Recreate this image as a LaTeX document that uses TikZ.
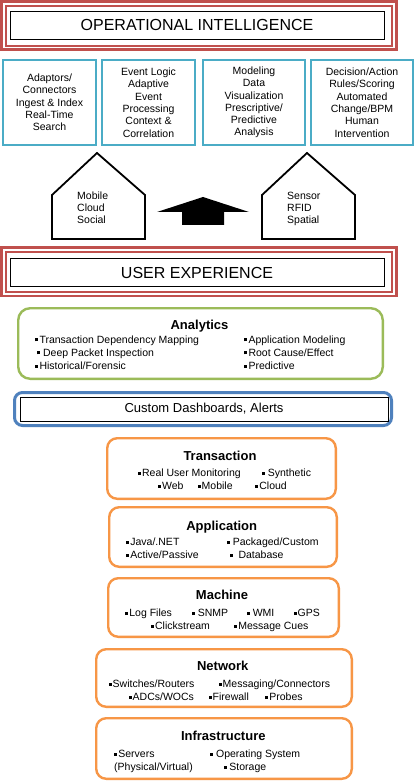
\documentclass[tikz,border=0pt]{standalone}
\usepackage{fontspec}
\setmainfont{Liberation Sans}
\usetikzlibrary{calc}

\definecolor{oired}{RGB}{192,80,77}
\definecolor{oiteal}{RGB}{75,172,198}
\definecolor{oigreen}{RGB}{155,187,89}
\definecolor{oiblue}{RGB}{79,129,189}
\definecolor{oiorange}{RGB}{247,150,70}

\newcommand{\sq}{\rule[1.7pt]{3pt}{3pt}}

\tikzset{
	redouter/.style={draw=oired, line width=2.4pt},
	redinner/.style={draw=oired, line width=1.6pt},
	headbox/.style={draw=black, line width=0.8pt, inner sep=0pt, font=\fontsize{16}{19}\selectfont},
	sourcebox/.style={draw=oiteal, line width=2.2pt, inner sep=0pt, align=center, font=\fontsize{10.5}{12.3}\selectfont},
	house/.style={draw=black, line width=1.8pt, line join=miter},
	housetext/.style={anchor=base west, inner sep=0pt, align=left, font=\fontsize{10.5}{12}\selectfont},
	layerbox/.style={draw=oiorange, line width=2.4pt, rounded corners=10pt, inner sep=0pt},
	layertitle/.style={anchor=base, inner sep=0pt, font=\bfseries\fontsize{13}{15}\selectfont},
	item/.style={anchor=base west, inner sep=0pt, font=\fontsize{10.5}{12.6}\selectfont}
}

\begin{document}
\begin{tikzpicture}[x=1pt,y=-1pt]
	\useasboundingbox[fill=white] (0,0) rectangle (417,783);

	% operational intelligence
	\draw[redouter] (1.5,1.5) rectangle (396.5,49.5);
	\draw[redinner] (6,6) rectangle (392,46);
	\node[headbox, minimum width=374pt, minimum height=28pt] (oi) at (197,25) {OPERATIONAL INTELLIGENCE};

	\node[sourcebox, minimum width=93pt, minimum height=85pt] (ingest) at (49.5,102.5) {Adaptors/\\Connectors\\Ingest \& Index\\Real-Time\\Search};
	\node[sourcebox, minimum width=93pt, minimum height=85pt] (events) at (148.5,102.5) {Event Logic\\Adaptive\\Event\\Processing\\Context \&\\Correlation};
	\node[sourcebox, minimum width=102pt, minimum height=85pt] (modeling) at (254,102.5) {Modeling\\Data\\Visualization\\Prescriptive/\\Predictive\\Analysis};
	\node[sourcebox, minimum width=102pt, minimum height=85pt] (decision) at (362,102.5) {Decision/Action\\Rules/Scoring\\Automated\\Change/BPM\\Human\\Intervention};

	% channels
	\draw[house] (52,239) -- (52,195) -- (97,153) -- (145,195) -- (145,239) -- cycle;
	\draw[house] (262,239) -- (262,195) -- (307,153) -- (355,195) -- (355,239) -- cycle;
	\node[housetext] (mobile) at (77,224) {Mobile\\Cloud\\Social};
	\node[housetext] (sensor) at (287,224) {Sensor\\RFID\\Spatial};
	\fill[black] (182,225) -- (182,212) -- (157,212) -- (203,197) -- (249,212) -- (224,212) -- (224,225) -- cycle;

	% user experience
	\draw[redouter] (1.5,247.5) rectangle (396.5,296);
	\draw[redinner] (6,252) rectangle (392,292);
	\node[headbox, minimum width=374pt, minimum height=28.4pt] (ux) at (197,272.5) {USER EXPERIENCE};

	% analytics
	\node[draw=oigreen, line width=2.4pt, rounded corners=12pt, minimum width=364.6pt, minimum height=70.6pt] (analytics) at (200.5,343.5) {};
	\node[layertitle] (antitle) at (199.5,329) {Analytics};
	\node[item] (an1) at (35,343) {\sq\hspace{1.3pt}Transaction Dependency Mapping};
	\node[item] (an2) at (37,356) {\sq\ Deep Packet Inspection};
	\node[item] (an3) at (35,369.2) {\sq\hspace{1.3pt}Historical/Forensic};
	\node[item] (an4) at (244,343) {\sq\hspace{1.3pt}Application Modeling};
	\node[item] (an5) at (244,356) {\sq\hspace{1.3pt}Root Cause/Effect};
	\node[item] (an6) at (244,369.2) {\sq\hspace{1.3pt}Predictive};

	% dashboards
	\node[draw=oiblue, line width=3pt, rounded corners=8pt, minimum width=377pt, minimum height=33pt] (alertsframe) at (203,409) {};
	\node[headbox, minimum width=368pt, minimum height=24pt, font=\fontsize{13}{15}\selectfont] (alerts) at (204,409) {Custom Dashboards, Alerts};

	% monitored layers
	\node[layerbox, minimum width=228.6pt, minimum height=60.6pt] (transaction) at (221.5,468.5) {};
	\node[layertitle] (trtitle) at (220,460.7) {Transaction};
	\node[item] (tr1) at (137.7,476.7) {\sq\hspace{1.2pt}Real User Monitoring};
	\node[item] (tr2) at (261.7,476.7) {\sq\ Synthetic};
	\node[item] (tr3) at (157.7,489.3) {\sq\hspace{1.2pt}Web};
	\node[item] (tr4) at (197.3,489.3) {\sq\hspace{1.2pt}Mobile};
	\node[item] (tr5) at (255,489.3) {\sq\hspace{1.2pt}Cloud};

	\node[layerbox, minimum width=227.6pt, minimum height=59.6pt] (application) at (223,537) {};
	\node[layertitle] (aptitle) at (221.7,530) {Application};
	\node[item] (ap1) at (126,545.7) {\sq\hspace{1.2pt}Java/.NET};
	\node[item] (ap2) at (226.7,545.7) {\sq\ Packaged/Custom};
	\node[item] (ap3) at (126,558.7) {\sq\hspace{1.2pt}Active/Passive};
	\node[item] (ap4) at (229.3,558.7) {\sq\hspace{6pt}Database};

	\node[layerbox, minimum width=230.6pt, minimum height=58.6pt] (machine) at (223.5,607.5) {};
	\node[layertitle] (matitle) at (222,599.3) {Machine};
	\node[item] (ma1) at (125,616.7) {\sq\hspace{1.2pt}Log Files};
	\node[item] (ma2) at (191.7,616.7) {\sq\ SNMP};
	\node[item] (ma3) at (246.7,616.7) {\sq\ WMI};
	\node[item] (ma4) at (293.3,616.7) {\sq\hspace{1.2pt}GPS};
	\node[item] (ma5) at (150.7,629.3) {\sq\hspace{1.2pt}Clickstream};
	\node[item] (ma6) at (234,629.3) {\sq\hspace{1.2pt}Message Cues};

	\node[layerbox, minimum width=255.6pt, minimum height=57.6pt] (network) at (224,678) {};
	\node[layertitle] (nettitle) at (222.7,670.7) {Network};
	\node[item] (net1) at (108.3,687.3) {\sq\hspace{1.2pt}Switches/Routers};
	\node[item] (net2) at (218.3,687.3) {\sq\hspace{1.2pt}Messaging/Connectors};
	\node[item] (net3) at (128.3,700.7) {\sq\hspace{1.2pt}ADCs/WOCs};
	\node[item] (net4) at (208.3,700.7) {\sq\hspace{1.2pt}Firewall};
	\node[item] (net5) at (265,700.7) {\sq\hspace{1.2pt}Probes};

	\node[layerbox, minimum width=255.6pt, minimum height=60.6pt] (infrastructure) at (224,748.5) {};
	\node[layertitle] (intitle) at (223.3,740.7) {Infrastructure};
	\node[item] (in1) at (114,757.3) {\sq\hspace{1.2pt}Servers};
	\node[item] (in2) at (210,757.3) {\sq\ Operating System};
	\node[item] (in3) at (114,770.7) {(Physical/Virtual)};
	\node[item] (in4) at (223.3,770.7) {\sq\ Storage};
\end{tikzpicture}
\end{document}
